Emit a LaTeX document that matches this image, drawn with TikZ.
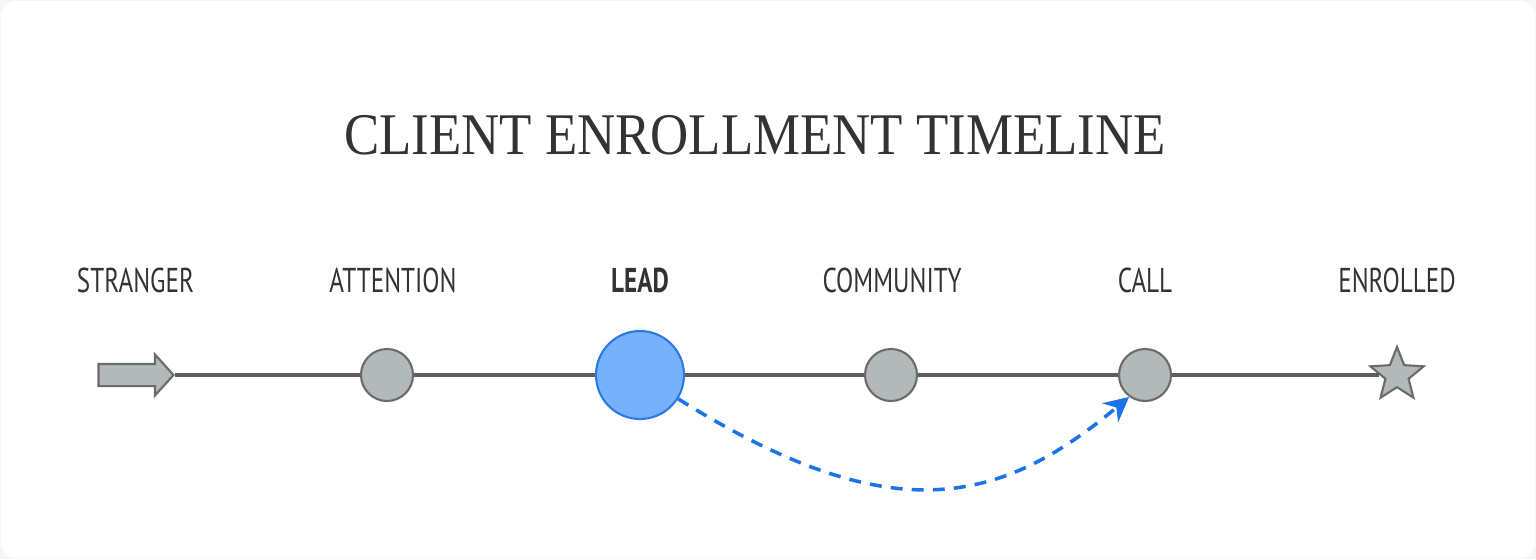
\documentclass[tikz,border=0pt]{standalone}
\usepackage{fontspec}
\newfontfamily\lblfont[FakeStretch=0.73]{PT Sans}
\newfontfamily\headfont[FakeStretch=0.895]{Liberation Serif}
\usepackage{tikz}
\usetikzlibrary{arrows.meta,positioning,shapes.geometric,shapes.arrows}
\definecolor{ink}{HTML}{333333}
\definecolor{stone}{HTML}{B3B8B9}
\definecolor{rim}{HTML}{6B6B6B}
\definecolor{track}{HTML}{5E5E5E}
\definecolor{leadfill}{HTML}{76B1FC}
\definecolor{leadrim}{HTML}{2B79E3}
\definecolor{jump}{HTML}{1A73E8}

\begin{document}
\begin{tikzpicture}[
  dot/.style={shape=circle,draw=rim,fill=stone,line width=0.6pt,minimum size=0.52cm,inner sep=0},
  tag/.style={text=ink,font=\lblfont\fontsize{9.8}{12}\selectfont}
]

\fill[gray!7] (0,0) rectangle (15.36,5.59);
\fill[white,rounded corners=0.15cm] (0.01,0.01) rectangle (15.35,5.58);
\useasboundingbox (0,0) rectangle (15.36,5.59);

\node[text=ink,font=\headfont\fontsize{16.8}{20}\selectfont] (title) at (7.55,4.24) {CLIENT ENROLLMENT TIMELINE};

% stages
\node[shape=single arrow,draw=rim,fill=stone,line width=0.6pt,inner xsep=0,inner ysep=0.1cm,minimum height=0.75cm,single arrow head extend=0.095cm,single arrow tip angle=96] (1) at (1.31,1.84){};
\node[dot] (2) at (3.87,1.84){};
\node[shape=circle,draw=leadrim,fill=leadfill,line width=0.6pt,minimum size=0.88cm,inner sep=0] (3) at (6.40,1.84){};
\node[dot] (4) at (8.91,1.84){};
\node[dot] (5) at (11.45,1.84){};
\node[shape=star,star points=5,star point ratio=2.3,draw=rim,fill=stone,line width=0.6pt,minimum size=0.56cm,inner sep=0] (6) at (13.97,1.84){};

\node[tag] (t1) at (1.355,2.79) {STRANGER};
\node[tag] (t2) at (3.93,2.79) {ATTENTION};
\node[tag,font=\lblfont\bfseries\fontsize{9.8}{12}\selectfont] (t3) at (6.40,2.79) {LEAD};
\node[tag] (t4) at (8.92,2.79) {COMMUNITY};
\node[tag] (t5) at (11.45,2.79) {CALL};
\node[tag] (t6) at (13.97,2.79) {ENROLLED};

\draw[track,line width=1pt] (1.tip) -- (2) -- (3) -- (4) -- (5) -- (6);

\draw[jump,line width=1pt,dash pattern=on 3.4pt off 2.6pt,-{Stealth[length=7pt,width=7pt]}] (3.-32) .. controls +(-32:2.5) and +(-140:1.7) .. (5.-126);

\end{tikzpicture}
\end{document}
